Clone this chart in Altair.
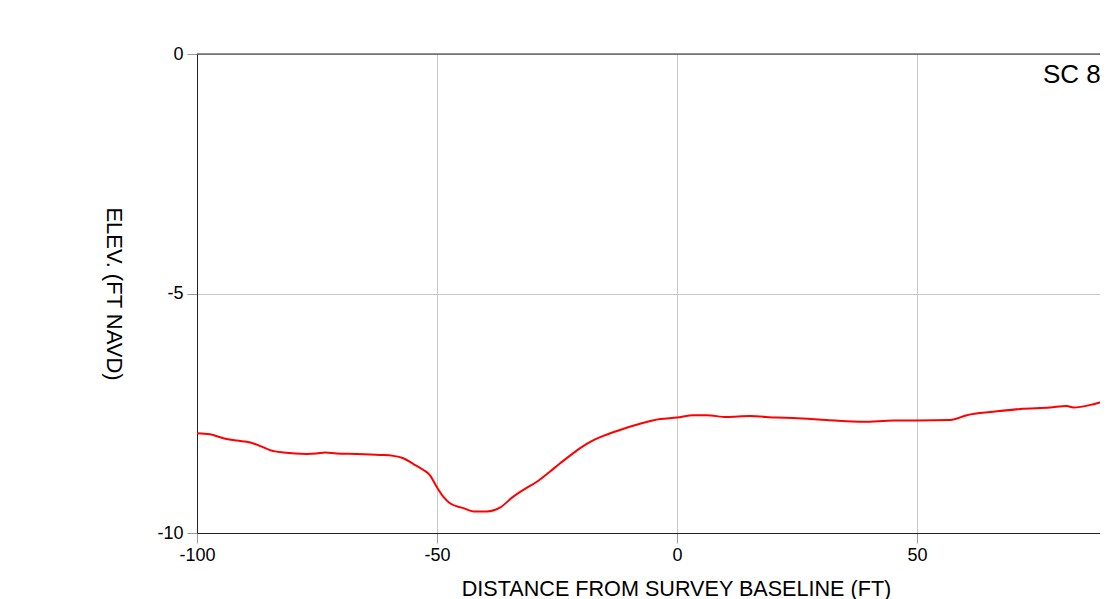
import altair as alt
import pandas as pd

# Survey profile (distance ft, elevation ft NAVD)
distance = [-100, -97.3, -94.5, -91.7, -88.9, -86.9, -84.8, -82.0, -77.1, -75.1, -73.3,
            -70.9, -66.7, -61.9, -59.1, -57.0, -54.9, -52.9, -51.5, -50.1, -48.7,
            -47.3, -44.5, -42.4, -39.6, -36.9, -34.1, -32.0, -29.2, -26.5, -24.4,
            -20.9, -18.8, -16.0, -11.9, -7.7, -3.5, 0.0, 3.4, 6.2,
            10.3, 15.2, 20.8, 24.2, 31.2, 38.8, 45.1, 49.9, 56.9, 60.4, 65.9,
            71.5, 77.7, 81.2, 82.6, 86.8, 89.5, 92.0]
elevation = [-7.92, -7.94, -8.02, -8.07, -8.11, -8.18, -8.27, -8.32, -8.35, -8.34, -8.32,
             -8.34, -8.35, -8.37, -8.39, -8.44, -8.56, -8.68, -8.79, -9.03, -9.24,
             -9.38, -9.48, -9.55, -9.55, -9.47, -9.24, -9.10, -8.93, -8.72, -8.55,
             -8.28, -8.14, -8.00, -7.85, -7.72, -7.62, -7.59, -7.54, -7.54,
             -7.58, -7.56, -7.59, -7.60, -7.64, -7.68, -7.65, -7.65, -7.64, -7.54, -7.47,
             -7.41, -7.38, -7.35, -7.38, -7.31, -7.24, -7.20]

x_ticks = [-100, -50, 0, 50]
y_ticks = [0, -5, -10]
x_title = "DISTANCE FROM SURVEY BASELINE (FT)"
y_title = "ELEV. (FT NAVD)"
label_text = "SC 8-1"

df = pd.DataFrame({"d": distance, "e": elevation})

FONT = "Liberation Sans"
W = 903
H = 479
PX_PER_FT = 4.8
hyphen_labels = "datum.value < 0 ? '-' + abs(datum.value) : '' + datum.value"

line = alt.Chart(df).mark_line(color="#ff0000", strokeWidth=2, clip=True,
                               interpolate="monotone").encode(
    x=alt.X("d:Q",
            scale=alt.Scale(domain=[-100, -100 + W / PX_PER_FT], nice=False, zero=False),
            axis=alt.Axis(values=x_ticks, grid=True, gridColor="#c8c8c8", gridWidth=1,
                          domainColor="#222222", tickColor="#999999", tickSize=10,
                          labelFontSize=18, labelColor="#000000", labelPadding=3,
                          labelFont=FONT, labelExpr=hyphen_labels,
                          title=x_title, titleFont=FONT,
                          titleFontSize=21.6, titleFontWeight="normal", titleColor="#000000",
                          titleX=479, titleY=56, titleAlign="center",
                          titleBaseline="middle", labelFlush=False)),
    y=alt.Y("e:Q",
            scale=alt.Scale(domain=[-10, 0], nice=False, zero=False),
            axis=alt.Axis(values=y_ticks, grid=True, gridColor="#c8c8c8", gridWidth=1,
                          domainColor="#222222", tickColor="#999999", tickSize=10,
                          labelFontSize=18, labelColor="#000000", labelPadding=4,
                          labelFont=FONT, labelExpr=hyphen_labels,
                          title=y_title, titleFont=FONT,
                          titleFontSize=22, titleFontWeight="normal", titleColor="#000000",
                          titleAngle=90, titleX=-84, titleY=H / 2, titleAlign="center",
                          titleBaseline="middle", labelFlush=False)),
)

top_rule = alt.Chart(pd.DataFrame({"y": [0]})).mark_rule(color="#222222", strokeWidth=1).encode(
    y=alt.Y("y:Q")
)

label = alt.Chart(pd.DataFrame({"t": [label_text]})).mark_text(
    align="left", baseline="middle", fontSize=26, font=FONT, color="#000000"
).encode(
    x=alt.value(846), y=alt.value(21), text="t:N"
)

chart = alt.layer(line, top_rule, label).properties(
    width=W, height=H,
    autosize=alt.AutoSizeParams(type="none"),
    padding={"left": 189, "top": 46, "right": 0, "bottom": 66},
).configure_view(strokeWidth=0)

chart.save("out.html", embed_options={"renderer": "svg", "actions": False})
